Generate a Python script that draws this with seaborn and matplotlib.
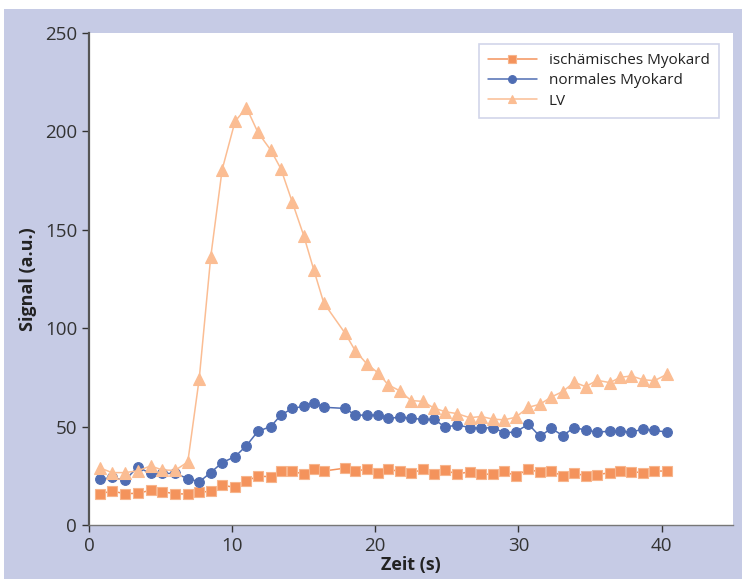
import matplotlib.pyplot as plt
import seaborn as sns
import pandas as pd
from matplotlib.patches import Rectangle

# Zeitpunkte (s)
zeit = [0.8, 1.6, 2.5, 3.4, 4.3, 5.1, 6.0, 6.9, 7.7, 8.5, 9.3, 10.2, 11.0,
        11.8, 12.7, 13.4, 14.2, 15.0, 15.7, 16.4, 17.9, 18.6, 19.4, 20.2,
        20.9, 21.7, 22.5, 23.3, 24.1, 24.9, 25.7, 26.6, 27.4, 28.2, 29.0,
        29.8, 30.7, 31.5, 32.3, 33.1, 33.9, 34.7, 35.5, 36.4, 37.1, 37.9,
        38.7, 39.5, 40.4]

ischaemisch = [15.9, 17.2, 15.9, 16.1, 17.6, 16.9, 15.9, 15.7, 16.5, 17.2,
               20.2, 19.1, 22.5, 24.7, 24.6, 27.2, 27.2, 25.9, 28.3, 27.4,
               28.9, 27.4, 28.3, 26.6, 28.3, 27.2, 26.2, 28.3, 26.0, 27.7,
               25.9, 27.0, 25.7, 25.9, 27.4, 24.9, 28.3, 26.8, 27.5, 24.7,
               26.4, 24.9, 25.5, 26.6, 27.5, 27.0, 26.6, 27.4, 27.4]

normal = [23.2, 24.2, 22.7, 29.4, 26.2, 26.2, 26.2, 23.6, 21.9, 26.6,
          31.7, 34.7, 40.3, 47.6, 50.0, 55.8, 59.2, 60.3, 62.2, 59.8,
          59.2, 55.8, 55.8, 55.8, 54.2, 54.7, 54.3, 53.6, 53.6, 49.7,
          50.8, 49.5, 49.1, 49.5, 46.9, 47.2, 51.2, 45.0, 49.1, 45.4,
          49.5, 48.2, 47.2, 47.6, 47.6, 47.2, 48.7, 48.0, 47.2]

lv = [28.9, 26.6, 26.6, 27.5, 30.0, 28.0, 27.7, 32.0, 74.4, 136.0,
      180.5, 205.0, 212.0, 199.4, 190.4, 181.0, 164.0, 147.0, 129.7, 112.8,
      97.3, 88.5, 81.9, 77.2, 71.2, 68.2, 63.2, 62.8, 59.4, 57.5,
      56.6, 54.5, 55.1, 53.8, 53.4, 54.7, 59.8, 61.3, 65.0, 67.8,
      72.5, 70.3, 73.5, 72.3, 75.0, 75.7, 73.8, 73.3, 76.6]

x_ticks = [0, 10, 20, 30, 40]
y_ticks = [0, 50, 100, 150, 200, 250]

sns.set_style("ticks")
plt.rcParams['font.family'] = ['Open Sans', 'DejaVu Sans']

fig = plt.figure(figsize=(7.42, 5.79), dpi=100)
fig.patch.set_facecolor('white')
fig.add_artist(Rectangle((4 / 742, 0), 1, (579 - 9) / 579, transform=fig.transFigure,
                         facecolor='#c6cbe5', edgecolor='none', zorder=-5))

ax = fig.add_axes([0.120, 0.0933, 0.868, 0.850])
ax.set_facecolor('white')

df = pd.DataFrame({'zeit': zeit, 'isch': ischaemisch, 'norm': normal, 'lv': lv})

series = [
    ('isch', 'ischämisches Myokard', '#f4935c', 's', 7.5, '#f7b58c'),
    ('norm', 'normales Myokard', '#4f6db3', 'o', 7, '#4f6db3'),
    ('lv', 'LV', '#fbbd93', '^', 8, '#fbbd93'),
]
for col, label, color, marker, ms, mec in series:
    sns.lineplot(data=df, x='zeit', y=col, ax=ax, color=color, marker=marker,
                 markersize=ms, markeredgecolor=mec, markeredgewidth=0.8,
                 linewidth=1.1, label=label)

ax.set_xlim(0, 45)
ax.set_ylim(0, 250)
ax.set_xticks(x_ticks)
ax.set_yticks(y_ticks)
ax.tick_params(axis='both', labelsize=13.5, colors='#333333', length=5, width=1, direction='out')
for s in ['top', 'right']:
    ax.spines[s].set_visible(False)
ax.spines['left'].set_color('#555555')
ax.spines['left'].set_linewidth(1.6)
ax.spines['bottom'].set_color('#777777')
ax.spines['bottom'].set_linewidth(1.0)

ax.set_xlabel('Zeit (s)', fontsize=13, fontweight='bold', color='#222222', labelpad=1)
ax.set_ylabel('Signal (a.u.)', fontsize=13, fontweight='bold', color='#222222', labelpad=6)

leg = ax.legend(loc='upper right', bbox_to_anchor=(0.99, 0.993), fontsize=11,
                frameon=True, fancybox=False, handlelength=3.2, borderpad=0.6,
                labelspacing=0.35, markerscale=0.8)
leg.get_frame().set_edgecolor('#c6cbe5')
leg.get_frame().set_linewidth(1.2)
for t in leg.get_texts():
    t.set_color('#222222')

fig.savefig('out.png', dpi=100)
